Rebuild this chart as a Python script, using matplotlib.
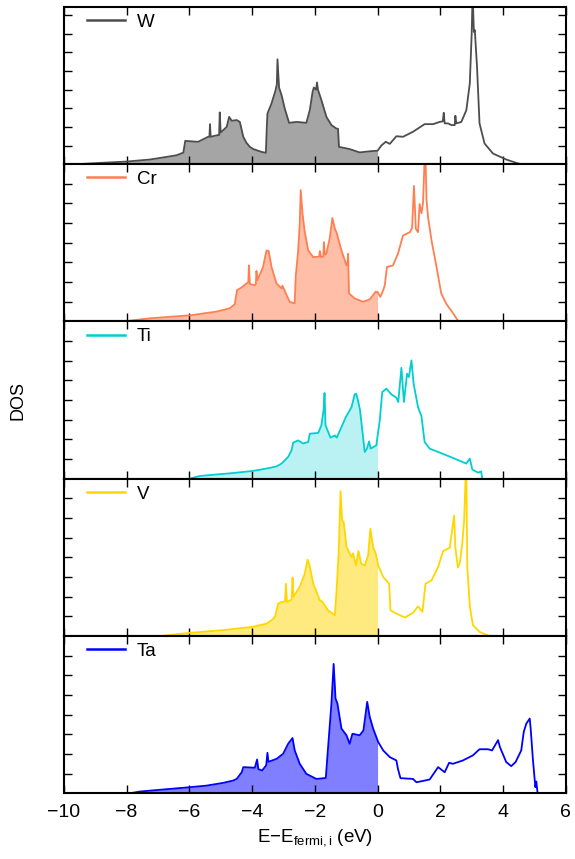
import numpy as np
import matplotlib
matplotlib.use("Agg")
import matplotlib.pyplot as plt

plt.rcParams["font.family"] = ["Liberation Sans", "DejaVu Sans"]
plt.rcParams["mathtext.fontset"] = "custom"
plt.rcParams["mathtext.rm"] = "Liberation Sans"
plt.rcParams["mathtext.it"] = "Liberation Sans:italic"

# (E - E_fermi [eV], DOS) per element
w_dos = [(-9.55, 0.0), (-8.8, 0.07), (-8.0, 0.14), (-7.25, 0.25), (-6.72, 0.39), (-6.40, 0.48),
         (-6.19, 0.62), (-6.13, 1.25),
         (-5.72, 1.2), (-5.40, 1.47), (-5.36, 1.47), (-5.34, 2.15), (-5.32, 1.47), (-5.10, 1.56),
         (-5.05, 1.56), (-5.03, 2.78), (-5.00, 1.7), (-4.81, 2.0), (-4.73, 2.54), (-4.65, 2.33),
         (-4.49, 2.37), (-4.39, 2.27), (-4.28, 1.47), (-4.18, 1.15), (-4.07, 0.93), (-3.96, 0.81),
         (-3.70, 0.66), (-3.56, 0.61),
         (-3.53, 2.0), (-3.51, 2.72), (-3.38, 3.26), (-3.25, 3.98), (-3.21, 4.3), (-3.19, 5.63),
         (-3.14, 4.12), (-3.06, 3.71), (-2.96, 3.0), (-2.82, 2.22), (-2.58, 2.27), (-2.27, 2.22),
         (-2.16, 2.9), (-2.07, 3.89), (-2.03, 4.12), (-1.96, 4.0), (-1.93, 4.39), (-1.90, 4.0),
         (-1.86, 3.8), (-1.79, 3.44), (-1.63, 2.54), (-1.47, 2.1), (-1.32, 1.92), (-1.26, 1.9),
         (-1.23, 0.93), (-0.89, 0.81), (-0.57, 0.63),
         (-0.20, 0.7), (0.0, 0.72), (0.12, 1.0), (0.26, 1.2), (0.39, 1.09), (0.60, 1.5),
         (0.81, 1.47), (1.13, 1.74), (1.50, 2.15), (1.77, 2.15), (1.98, 2.27), (2.08, 2.3),
         (2.11, 2.76), (2.14, 2.19), (2.25, 2.19), (2.35, 2.1), (2.46, 2.1), (2.48, 2.6),
         (2.51, 2.19), (2.67, 2.27), (2.83, 2.9), (2.94, 4.34), (3.00, 7.0), (3.03, 9.2),
         (3.07, 7.1), (3.10, 7.2), (3.17, 5.23), (3.25, 2.19), (3.41, 1.11), (3.68, 0.57),
         (4.10, 0.25), (4.47, 0.04), (4.60, 0.0)]

cr_dos = [(-7.95, 0.0), (-7.89, 0.04), (-7.25, 0.16), (-5.98, 0.31), (-5.13, 0.5), (-4.71, 0.67),
          (-4.55, 0.88),
          (-4.48, 1.59), (-4.34, 1.72), (-4.18, 1.93), (-4.12, 2.0), (-4.10, 2.85), (-4.07, 1.9),
          (-3.91, 1.84), (-3.88, 1.9), (-3.86, 2.57), (-3.83, 2.1), (-3.65, 2.77), (-3.54, 3.61),
          (-3.47, 3.58), (-3.38, 2.77), (-3.22, 1.93), (-3.06, 1.68), (-3.03, 1.82), (-2.90, 1.34),
          (-2.80, 1.0), (-2.64, 0.92), (-2.61, 2.26), (-2.53, 3.61), (-2.48, 5.0), (-2.45, 6.68),
          (-2.39, 5.46), (-2.32, 4.54), (-2.21, 3.61), (-2.05, 3.27), (-1.86, 3.3), (-1.84, 3.58),
          (-1.80, 3.27), (-1.73, 3.3), (-1.71, 4.03), (-1.68, 3.4), (-1.63, 3.44), (-1.52, 4.28),
          (-1.44, 5.26), (-1.36, 4.71), (-1.30, 4.5), (-1.26, 4.25), (-1.15, 3.61), (-0.99, 2.85),
          (-0.96, 2.9), (-0.94, 3.44), (-0.91, 1.42), (-0.73, 1.17), (-0.46, 1.0), (-0.25, 1.12),
          (-0.06, 1.51), (0.0, 1.5), (0.09, 1.25), (0.18, 1.59), (0.23, 1.84), (0.30, 2.77),
          (0.49, 2.85), (0.65, 3.44), (0.81, 4.37), (1.03, 4.54), (1.10, 4.75), (1.16, 6.89),
          (1.22, 4.71), (1.29, 4.54), (1.34, 5.97), (1.40, 5.5), (1.45, 6.05), (1.50, 8.3),
          (1.53, 8.3), (1.56, 6.2), (1.61, 5.29), (1.72, 4.12), (1.88, 2.77), (2.03, 1.42),
          (2.19, 0.9), (2.41, 0.41), (2.56, 0.04), (2.90, 0.0)]

ti_dos = [(-6.0, 0.0), (-5.66, 0.14), (-4.60, 0.29), (-3.96, 0.40), (-3.43, 0.55), (-3.22, 0.63),
          (-3.06, 0.77),
          (-2.85, 1.11), (-2.74, 1.45), (-2.69, 1.84), (-2.53, 1.95), (-2.37, 1.79), (-2.21, 1.87),
          (-2.16, 2.29), (-1.89, 2.33), (-1.79, 2.72), (-1.72, 3.5), (-1.69, 4.36), (-1.66, 2.72),
          (-1.50, 2.09), (-1.36, 2.2), (-1.30, 2.09), (-1.15, 2.63), (-1.01, 3.14), (-0.83, 3.64),
          (-0.73, 4.29), (-0.68, 4.32), (-0.62, 3.95), (-0.56, 3.5), (-0.51, 2.8), (-0.41, 1.36),
          (-0.34, 1.53), (-0.27, 1.9), (-0.22, 1.53), (-0.04, 1.7), (0.07, 2.97), (0.15, 4.41),
          (0.28, 4.58), (0.44, 4.29), (0.60, 4.12), (0.66, 3.9), (0.76, 5.64), (0.84, 3.9),
          (0.94, 5.34), (1.00, 5.17), (1.08, 6.02), (1.15, 4.83), (1.29, 3.64), (1.40, 3.17),
          (1.50, 1.87), (1.66, 1.53), (1.98, 1.33), (2.40, 1.06), (2.83, 0.77), (2.94, 1.02),
          (3.02, 0.47), (3.20, 0.31), (3.30, 0.37), (3.34, 0.0)]

v_dos = [(-6.94, 0.0), (-5.98, 0.16), (-4.92, 0.30), (-3.96, 0.47), (-3.54, 0.63), (-3.38, 0.8),
         (-3.27, 0.97),
         (-3.17, 1.65), (-3.07, 1.73), (-2.95, 1.75), (-2.92, 2.66), (-2.89, 1.73), (-2.74, 1.85),
         (-2.71, 2.97), (-2.68, 2.0), (-2.48, 2.5), (-2.32, 3.17), (-2.23, 3.88), (-2.17, 3.6),
         (-2.05, 2.66), (-1.84, 1.82), (-1.75, 1.73), (-1.58, 1.31), (-1.36, 1.06), (-1.31, 2.24),
         (-1.24, 4.19), (-1.18, 7.37), (-1.13, 5.88), (-1.08, 5.8), (-0.99, 4.53), (-0.83, 4.02),
         (-0.78, 4.2), (-0.69, 3.59), (-0.61, 4.32), (-0.52, 3.68), (-0.41, 3.59), (-0.30, 4.1),
         (-0.23, 5.46), (-0.14, 4.5), (-0.06, 4.2), (0.02, 3.59), (0.18, 3.0), (0.37, 2.66),
         (0.41, 1.31), (0.60, 1.14), (0.87, 0.94), (1.13, 1.18), (1.29, 1.51), (1.43, 1.23),
         (1.53, 2.66), (1.72, 2.83), (1.93, 3.51), (2.09, 4.32), (2.30, 4.49), (2.44, 6.13),
         (2.48, 4.5), (2.56, 3.48), (2.62, 3.7), (2.70, 4.7), (2.76, 5.88), (2.81, 8.3),
         (2.83, 8.3), (2.86, 3.53), (2.94, 1.5), (3.04, 0.55), (3.25, 0.21), (3.57, 0.0)]

ta_dos = [(-7.90, 0.0), (-7.57, 0.09), (-5.98, 0.31), (-5.45, 0.39), (-4.92, 0.53), (-4.60, 0.65),
          (-4.49, 0.73), (-4.33, 1.07),
          (-4.28, 1.33), (-3.91, 1.30), (-3.84, 1.72), (-3.80, 1.23), (-3.68, 1.16), (-3.55, 1.42),
          (-3.51, 2.06), (-3.48, 1.6), (-3.22, 1.75), (-3.01, 2.01), (-2.85, 2.52), (-2.71, 2.81),
          (-2.64, 2.18), (-2.48, 1.5), (-2.27, 0.99), (-1.95, 0.73), (-1.65, 0.78), (-1.58, 2.27),
          (-1.47, 4.57), (-1.40, 6.58), (-1.34, 4.82), (-1.28, 4.57), (-1.15, 3.29), (-0.99, 2.95),
          (-0.89, 2.52), (-0.80, 3.03), (-0.57, 2.95), (-0.45, 3.2), (-0.33, 4.65), (-0.25, 3.89),
          (-0.14, 3.29), (0.02, 2.61), (0.18, 2.18), (0.39, 1.84), (0.60, 1.67), (0.65, 1.24),
          (0.73, 0.77), (1.13, 0.73), (1.24, 0.56), (1.66, 0.70), (1.93, 1.33), (2.14, 1.07),
          (2.28, 1.55), (2.40, 1.5), (2.72, 1.67), (3.04, 1.93), (3.25, 2.24), (3.52, 2.24),
          (3.65, 2.18), (3.84, 2.7), (3.90, 2.35), (4.10, 1.59), (4.26, 1.38), (4.40, 1.59),
          (4.58, 2.18), (4.66, 3.12), (4.74, 3.54), (4.85, 3.8), (4.88, 3.3), (4.95, 1.75),
          (5.03, 0.31), (5.06, 0.6), (5.10, 0.02), (6.0, 0.0)]

elements = ["W", "Cr", "Ti", "V", "Ta"]
curves = [w_dos, cr_dos, ti_dos, v_dos, ta_dos]
colors = ["#4d4d4d", "#ff7f50", "#00ced1", "#ffd700", "#0000ff"]
fill_alpha = [0.5, 0.5, 0.27, 0.5, 0.5]
ymax = [8.45, 8, 8, 8, 8]

fig, axes = plt.subplots(5, 1, sharex=True, figsize=(5.75, 8.59), dpi=100)
fig.subplots_adjust(left=0.111, right=0.984, top=0.992, bottom=0.0765, hspace=0)

for ax, name, pts, c, a, ym in zip(axes, elements, curves, colors, fill_alpha, ymax):
    e, d = np.array(pts).T
    ax.plot(e, d, color=c, lw=1.3, label=name)
    # occupied states shaded up to the Fermi level
    below = e < 0
    ef = np.append(e[below], 0.0)
    df = np.append(d[below], np.interp(0.0, e, d))
    ax.fill_between(ef, 0, df, color=c, alpha=a, lw=0)
    ax.set_xlim(-10, 6)
    ax.set_ylim(0, ym)
    ax.set_yticks(np.arange(1, int(ym) + 1 if ym > 8 else 8))
    ax.set_xticks(np.arange(-10, 7, 2))
    ax.tick_params(direction="in", top=True, right=True, length=6, width=1,
                   labelleft=False, labelsize=14, pad=8)
    for s in ax.spines.values():
        s.set_linewidth(1.5)
    leg = ax.legend(loc="upper left", bbox_to_anchor=(0.041, 0.975), frameon=False,
                    borderaxespad=0, borderpad=0.15, handlelength=2.0,
                    handletextpad=0.65, fontsize=13.5)
    for h in leg.get_lines():
        h.set_linewidth(1.8)

axes[-1].set_xlabel("E\u2212E$_{\\mathrm{fermi,i}}$ (eV)", fontsize=13.5, labelpad=4)
fig.text(0.031, 0.534, "DOS", rotation=90, ha="center", va="center", fontsize=13)

fig.savefig("out.png", dpi=100)
